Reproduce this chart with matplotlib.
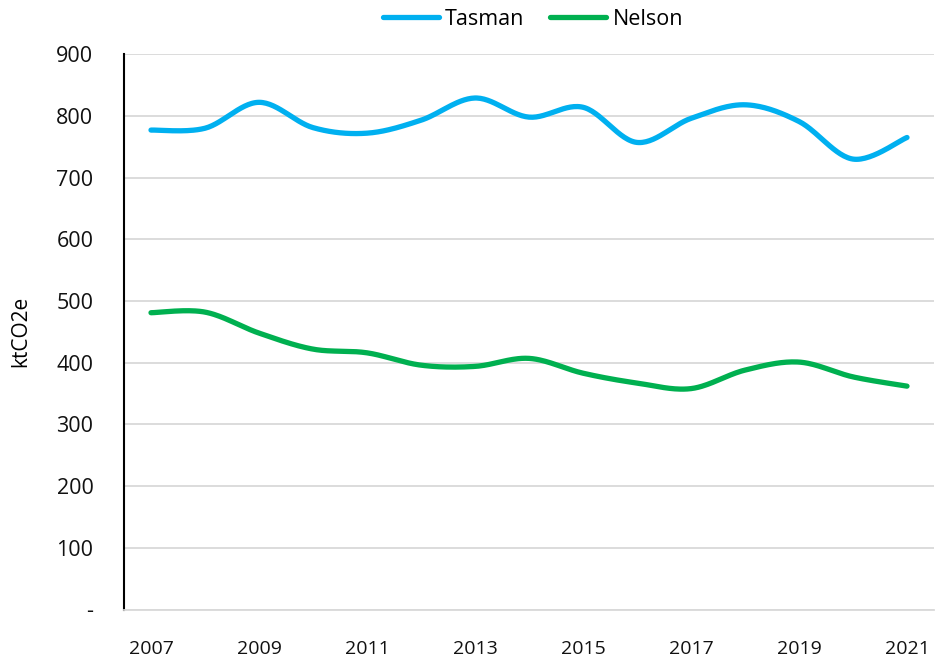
import numpy as np
import matplotlib.pyplot as plt

years = list(range(2007, 2022))
tasman = [777, 780, 822, 781, 772, 793, 829, 798, 814, 757, 796, 818, 791, 730, 765]
nelson = [481, 482, 448, 422, 416, 396, 394, 407, 383, 367, 358, 388, 401, 377, 362]

y_ticks = [0, 100, 200, 300, 400, 500, 600, 700, 800, 900]
y_tick_labels = ['-'] + [str(v) for v in y_ticks[1:]]
x_ticks = list(range(2007, 2022, 2))


def smooth(xs, ys, n=30):
    """Catmull-Rom style smoothing, similar to Excel's smoothed lines."""
    xs = np.asarray(xs, dtype=float)
    ys = np.asarray(ys, dtype=float)
    pts = np.column_stack([xs, ys])
    out = []
    for i in range(len(pts) - 1):
        p0 = pts[i - 1] if i > 0 else pts[i]
        p1 = pts[i]
        p2 = pts[i + 1]
        p3 = pts[i + 2] if i + 2 < len(pts) else pts[i + 1]
        c1 = p1 + (p2 - p0) / 6.0
        c2 = p2 - (p3 - p1) / 6.0
        t = np.linspace(0, 1, n, endpoint=(i == len(pts) - 2))[:, None]
        seg = ((1 - t) ** 3) * p1 + 3 * ((1 - t) ** 2) * t * c1 \
            + 3 * (1 - t) * t ** 2 * c2 + t ** 3 * p2
        out.append(seg)
    out = np.vstack(out)
    return out[:, 0], out[:, 1]


plt.rcParams['font.family'] = ['Open Sans', 'DejaVu Sans']

fig = plt.figure(figsize=(9.35, 6.62), dpi=100)
ax = fig.add_axes([124 / 935, 1 - 609.5 / 662, 810 / 935, (609.5 - 54.2) / 662])

tx, ty = smooth(years, tasman)
nx, ny = smooth(years, nelson)
ax.plot(tx, ty, color='#00B0F0', lw=3.8, solid_capstyle='round', label='Tasman')
ax.plot(nx, ny, color='#00B050', lw=3.8, solid_capstyle='round', label='Nelson')

ax.set_xlim(2006.5, 2021.5)
ax.set_ylim(0, 900)
ax.set_yticks(y_ticks)
ax.set_yticklabels(y_tick_labels)
ax.set_xticks(x_ticks)
ax.set_xticklabels([str(x) for x in x_ticks])

ax.yaxis.grid(True, color='#d9d9d9', lw=1.3)
ax.set_axisbelow(True)
for s in ['top', 'right']:
    ax.spines[s].set_visible(False)
ax.spines['bottom'].set_color('#d9d9d9')
ax.spines['bottom'].set_linewidth(1.3)
ax.spines['left'].set_color('black')
ax.spines['left'].set_linewidth(1.5)
ax.tick_params(axis='both', length=0, colors='#111111')
ax.tick_params(axis='y', pad=22, labelsize=15.5)
ax.tick_params(axis='x', pad=22, labelsize=14)

ax.set_ylabel('ktCO2e', fontsize=15, labelpad=18)

fig.legend(loc='upper center', bbox_to_anchor=(533 / 935, 1.016), ncol=2,
           frameon=False, fontsize=15.5, handlelength=2.6, columnspacing=1.2,
           handletextpad=0.3)

fig.savefig('out.png', dpi=100)
